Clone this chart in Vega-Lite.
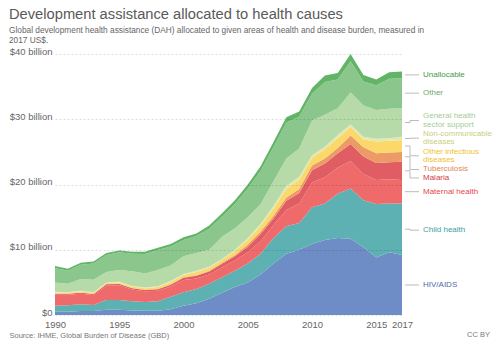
{
"$schema":"https://vega.github.io/schema/vega-lite/v6.json",
"autosize":{"type":"none"},
"width":347,"height":261,
"padding":{"left":55,"top":54,"right":98,"bottom":38},
"config":{"font":"Liberation Sans","view":{"stroke":null}},
"title":{"text":"Development assistance allocated to health causes","subtitle":["Global development health assistance (DAH) allocated to given areas of health and disease burden, measured in","2017 US$."],"anchor":"start","frame":"bounds","fontSize":14.7,"fontWeight":"normal","color":"#5a5a5a","subtitleFontSize":8.3,"subtitleColor":"#666","subtitlePadding":4,"subtitleLineHeight":10,"offset":2},
"datasets":{
"dah":[
{"year":1990,"cause":"HIV/AIDS","value":0.5},{"year":1990,"cause":"Child health","value":0.9},{"year":1990,"cause":"Maternal health","value":1.7},{"year":1990,"cause":"Malaria","value":0.15},{"year":1990,"cause":"Tuberculosis","value":0.05},{"year":1990,"cause":"Other infectious diseases","value":0.15},{"year":1990,"cause":"Non-communicable diseases","value":0.1},{"year":1990,"cause":"General health sector support","value":1.45},{"year":1990,"cause":"Other","value":2.2},{"year":1990,"cause":"Unallocable","value":0.3},
{"year":1991,"cause":"HIV/AIDS","value":0.5},{"year":1991,"cause":"Child health","value":1.0},{"year":1991,"cause":"Maternal health","value":1.6},{"year":1991,"cause":"Malaria","value":0.15},{"year":1991,"cause":"Tuberculosis","value":0.05},{"year":1991,"cause":"Other infectious diseases","value":0.1},{"year":1991,"cause":"Non-communicable diseases","value":0.1},{"year":1991,"cause":"General health sector support","value":1.3},{"year":1991,"cause":"Other","value":2.0},{"year":1991,"cause":"Unallocable","value":0.3},
{"year":1992,"cause":"HIV/AIDS","value":0.6},{"year":1992,"cause":"Child health","value":1.05},{"year":1992,"cause":"Maternal health","value":1.6},{"year":1992,"cause":"Malaria","value":0.15},{"year":1992,"cause":"Tuberculosis","value":0.05},{"year":1992,"cause":"Other infectious diseases","value":0.15},{"year":1992,"cause":"Non-communicable diseases","value":0.1},{"year":1992,"cause":"General health sector support","value":1.8},{"year":1992,"cause":"Other","value":2.2},{"year":1992,"cause":"Unallocable","value":0.3},
{"year":1993,"cause":"HIV/AIDS","value":0.6},{"year":1993,"cause":"Child health","value":0.95},{"year":1993,"cause":"Maternal health","value":1.5},{"year":1993,"cause":"Malaria","value":0.15},{"year":1993,"cause":"Tuberculosis","value":0.05},{"year":1993,"cause":"Other infectious diseases","value":0.15},{"year":1993,"cause":"Non-communicable diseases","value":0.1},{"year":1993,"cause":"General health sector support","value":1.9},{"year":1993,"cause":"Other","value":2.5},{"year":1993,"cause":"Unallocable","value":0.3},
{"year":1994,"cause":"HIV/AIDS","value":0.8},{"year":1994,"cause":"Child health","value":1.5},{"year":1994,"cause":"Maternal health","value":2.2},{"year":1994,"cause":"Malaria","value":0.2},{"year":1994,"cause":"Tuberculosis","value":0.05},{"year":1994,"cause":"Other infectious diseases","value":0.15},{"year":1994,"cause":"Non-communicable diseases","value":0.1},{"year":1994,"cause":"General health sector support","value":1.6},{"year":1994,"cause":"Other","value":2.6},{"year":1994,"cause":"Unallocable","value":0.3},
{"year":1995,"cause":"HIV/AIDS","value":0.8},{"year":1995,"cause":"Child health","value":1.5},{"year":1995,"cause":"Maternal health","value":2.25},{"year":1995,"cause":"Malaria","value":0.2},{"year":1995,"cause":"Tuberculosis","value":0.05},{"year":1995,"cause":"Other infectious diseases","value":0.2},{"year":1995,"cause":"Non-communicable diseases","value":0.1},{"year":1995,"cause":"General health sector support","value":1.8},{"year":1995,"cause":"Other","value":2.7},{"year":1995,"cause":"Unallocable","value":0.3},
{"year":1996,"cause":"HIV/AIDS","value":0.7},{"year":1996,"cause":"Child health","value":1.4},{"year":1996,"cause":"Maternal health","value":1.8},{"year":1996,"cause":"Malaria","value":0.2},{"year":1996,"cause":"Tuberculosis","value":0.05},{"year":1996,"cause":"Other infectious diseases","value":0.2},{"year":1996,"cause":"Non-communicable diseases","value":0.1},{"year":1996,"cause":"General health sector support","value":2.25},{"year":1996,"cause":"Other","value":2.7},{"year":1996,"cause":"Unallocable","value":0.3},
{"year":1997,"cause":"HIV/AIDS","value":0.65},{"year":1997,"cause":"Child health","value":1.35},{"year":1997,"cause":"Maternal health","value":1.65},{"year":1997,"cause":"Malaria","value":0.2},{"year":1997,"cause":"Tuberculosis","value":0.05},{"year":1997,"cause":"Other infectious diseases","value":0.2},{"year":1997,"cause":"Non-communicable diseases","value":0.1},{"year":1997,"cause":"General health sector support","value":2.15},{"year":1997,"cause":"Other","value":3.0},{"year":1997,"cause":"Unallocable","value":0.35},
{"year":1998,"cause":"HIV/AIDS","value":0.65},{"year":1998,"cause":"Child health","value":1.45},{"year":1998,"cause":"Maternal health","value":1.6},{"year":1998,"cause":"Malaria","value":0.25},{"year":1998,"cause":"Tuberculosis","value":0.05},{"year":1998,"cause":"Other infectious diseases","value":0.3},{"year":1998,"cause":"Non-communicable diseases","value":0.1},{"year":1998,"cause":"General health sector support","value":2.5},{"year":1998,"cause":"Other","value":3.05},{"year":1998,"cause":"Unallocable","value":0.35},
{"year":1999,"cause":"HIV/AIDS","value":0.9},{"year":1999,"cause":"Child health","value":1.9},{"year":1999,"cause":"Maternal health","value":1.55},{"year":1999,"cause":"Malaria","value":0.3},{"year":1999,"cause":"Tuberculosis","value":0.05},{"year":1999,"cause":"Other infectious diseases","value":0.35},{"year":1999,"cause":"Non-communicable diseases","value":0.15},{"year":1999,"cause":"General health sector support","value":2.4},{"year":1999,"cause":"Other","value":2.9},{"year":1999,"cause":"Unallocable","value":0.4},
{"year":2000,"cause":"HIV/AIDS","value":1.4},{"year":2000,"cause":"Child health","value":2.1},{"year":2000,"cause":"Maternal health","value":1.85},{"year":2000,"cause":"Malaria","value":0.35},{"year":2000,"cause":"Tuberculosis","value":0.1},{"year":2000,"cause":"Other infectious diseases","value":0.35},{"year":2000,"cause":"Non-communicable diseases","value":0.15},{"year":2000,"cause":"General health sector support","value":2.7},{"year":2000,"cause":"Other","value":2.5},{"year":2000,"cause":"Unallocable","value":0.4},
{"year":2001,"cause":"HIV/AIDS","value":1.8},{"year":2001,"cause":"Child health","value":2.2},{"year":2001,"cause":"Maternal health","value":1.6},{"year":2001,"cause":"Malaria","value":0.4},{"year":2001,"cause":"Tuberculosis","value":0.1},{"year":2001,"cause":"Other infectious diseases","value":0.5},{"year":2001,"cause":"Non-communicable diseases","value":0.2},{"year":2001,"cause":"General health sector support","value":2.7},{"year":2001,"cause":"Other","value":2.6},{"year":2001,"cause":"Unallocable","value":0.4},
{"year":2002,"cause":"HIV/AIDS","value":2.5},{"year":2002,"cause":"Child health","value":2.3},{"year":2002,"cause":"Maternal health","value":1.4},{"year":2002,"cause":"Malaria","value":0.45},{"year":2002,"cause":"Tuberculosis","value":0.15},{"year":2002,"cause":"Other infectious diseases","value":0.45},{"year":2002,"cause":"Non-communicable diseases","value":0.15},{"year":2002,"cause":"General health sector support","value":2.6},{"year":2002,"cause":"Other","value":3.2},{"year":2002,"cause":"Unallocable","value":0.5},
{"year":2003,"cause":"HIV/AIDS","value":3.4},{"year":2003,"cause":"Child health","value":2.4},{"year":2003,"cause":"Maternal health","value":1.5},{"year":2003,"cause":"Malaria","value":0.55},{"year":2003,"cause":"Tuberculosis","value":0.15},{"year":2003,"cause":"Other infectious diseases","value":0.45},{"year":2003,"cause":"Non-communicable diseases","value":0.15},{"year":2003,"cause":"General health sector support","value":3.4},{"year":2003,"cause":"Other","value":3.1},{"year":2003,"cause":"Unallocable","value":0.5},
{"year":2004,"cause":"HIV/AIDS","value":4.3},{"year":2004,"cause":"Child health","value":2.5},{"year":2004,"cause":"Maternal health","value":1.55},{"year":2004,"cause":"Malaria","value":0.65},{"year":2004,"cause":"Tuberculosis","value":0.2},{"year":2004,"cause":"Other infectious diseases","value":0.6},{"year":2004,"cause":"Non-communicable diseases","value":0.2},{"year":2004,"cause":"General health sector support","value":3.3},{"year":2004,"cause":"Other","value":3.7},{"year":2004,"cause":"Unallocable","value":0.6},
{"year":2005,"cause":"HIV/AIDS","value":5.0},{"year":2005,"cause":"Child health","value":2.9},{"year":2005,"cause":"Maternal health","value":1.7},{"year":2005,"cause":"Malaria","value":0.85},{"year":2005,"cause":"Tuberculosis","value":0.35},{"year":2005,"cause":"Other infectious diseases","value":0.7},{"year":2005,"cause":"Non-communicable diseases","value":0.3},{"year":2005,"cause":"General health sector support","value":3.2},{"year":2005,"cause":"Other","value":4.4},{"year":2005,"cause":"Unallocable","value":0.6},
{"year":2006,"cause":"HIV/AIDS","value":6.2},{"year":2006,"cause":"Child health","value":3.2},{"year":2006,"cause":"Maternal health","value":1.9},{"year":2006,"cause":"Malaria","value":1.1},{"year":2006,"cause":"Tuberculosis","value":0.4},{"year":2006,"cause":"Other infectious diseases","value":0.85},{"year":2006,"cause":"Non-communicable diseases","value":0.35},{"year":2006,"cause":"General health sector support","value":3.0},{"year":2006,"cause":"Other","value":5.1},{"year":2006,"cause":"Unallocable","value":0.7},
{"year":2007,"cause":"HIV/AIDS","value":7.9},{"year":2007,"cause":"Child health","value":3.9},{"year":2007,"cause":"Maternal health","value":2.0},{"year":2007,"cause":"Malaria","value":1.0},{"year":2007,"cause":"Tuberculosis","value":0.4},{"year":2007,"cause":"Other infectious diseases","value":1.1},{"year":2007,"cause":"Non-communicable diseases","value":0.4},{"year":2007,"cause":"General health sector support","value":3.8},{"year":2007,"cause":"Other","value":5.2},{"year":2007,"cause":"Unallocable","value":0.8},
{"year":2008,"cause":"HIV/AIDS","value":9.4},{"year":2008,"cause":"Child health","value":4.2},{"year":2008,"cause":"Maternal health","value":2.5},{"year":2008,"cause":"Malaria","value":1.4},{"year":2008,"cause":"Tuberculosis","value":0.5},{"year":2008,"cause":"Other infectious diseases","value":1.3},{"year":2008,"cause":"Non-communicable diseases","value":0.5},{"year":2008,"cause":"General health sector support","value":4.2},{"year":2008,"cause":"Other","value":5.5},{"year":2008,"cause":"Unallocable","value":0.8},
{"year":2009,"cause":"HIV/AIDS","value":10.0},{"year":2009,"cause":"Child health","value":4.1},{"year":2009,"cause":"Maternal health","value":3.0},{"year":2009,"cause":"Malaria","value":1.6},{"year":2009,"cause":"Tuberculosis","value":0.6},{"year":2009,"cause":"Other infectious diseases","value":1.4},{"year":2009,"cause":"Non-communicable diseases","value":0.5},{"year":2009,"cause":"General health sector support","value":4.3},{"year":2009,"cause":"Other","value":4.9},{"year":2009,"cause":"Unallocable","value":0.8},
{"year":2010,"cause":"HIV/AIDS","value":10.9},{"year":2010,"cause":"Child health","value":5.6},{"year":2010,"cause":"Maternal health","value":3.8},{"year":2010,"cause":"Malaria","value":1.9},{"year":2010,"cause":"Tuberculosis","value":0.7},{"year":2010,"cause":"Other infectious diseases","value":1.2},{"year":2010,"cause":"Non-communicable diseases","value":0.4},{"year":2010,"cause":"General health sector support","value":5.3},{"year":2010,"cause":"Other","value":4.1},{"year":2010,"cause":"Unallocable","value":0.9},
{"year":2011,"cause":"HIV/AIDS","value":11.5},{"year":2011,"cause":"Child health","value":5.6},{"year":2011,"cause":"Maternal health","value":4.0},{"year":2011,"cause":"Malaria","value":2.1},{"year":2011,"cause":"Tuberculosis","value":0.8},{"year":2011,"cause":"Other infectious diseases","value":1.4},{"year":2011,"cause":"Non-communicable diseases","value":0.4},{"year":2011,"cause":"General health sector support","value":4.9},{"year":2011,"cause":"Other","value":5.0},{"year":2011,"cause":"Unallocable","value":1.0},
{"year":2012,"cause":"HIV/AIDS","value":11.8},{"year":2012,"cause":"Child health","value":6.8},{"year":2012,"cause":"Maternal health","value":4.0},{"year":2012,"cause":"Malaria","value":2.2},{"year":2012,"cause":"Tuberculosis","value":0.8},{"year":2012,"cause":"Other infectious diseases","value":1.5},{"year":2012,"cause":"Non-communicable diseases","value":0.5},{"year":2012,"cause":"General health sector support","value":4.1},{"year":2012,"cause":"Other","value":4.4},{"year":2012,"cause":"Unallocable","value":1.0},
{"year":2013,"cause":"HIV/AIDS","value":11.7},{"year":2013,"cause":"Child health","value":7.7},{"year":2013,"cause":"Maternal health","value":4.2},{"year":2013,"cause":"Malaria","value":2.6},{"year":2013,"cause":"Tuberculosis","value":1.3},{"year":2013,"cause":"Other infectious diseases","value":1.3},{"year":2013,"cause":"Non-communicable diseases","value":0.4},{"year":2013,"cause":"General health sector support","value":4.9},{"year":2013,"cause":"Other","value":4.8},{"year":2013,"cause":"Unallocable","value":1.1},
{"year":2014,"cause":"HIV/AIDS","value":10.4},{"year":2014,"cause":"Child health","value":7.2},{"year":2014,"cause":"Maternal health","value":4.0},{"year":2014,"cause":"Malaria","value":2.7},{"year":2014,"cause":"Tuberculosis","value":1.4},{"year":2014,"cause":"Other infectious diseases","value":1.2},{"year":2014,"cause":"Non-communicable diseases","value":0.4},{"year":2014,"cause":"General health sector support","value":4.8},{"year":2014,"cause":"Other","value":3.7},{"year":2014,"cause":"Unallocable","value":1.0},
{"year":2015,"cause":"HIV/AIDS","value":8.8},{"year":2015,"cause":"Child health","value":8.2},{"year":2015,"cause":"Maternal health","value":3.7},{"year":2015,"cause":"Malaria","value":2.6},{"year":2015,"cause":"Tuberculosis","value":1.5},{"year":2015,"cause":"Other infectious diseases","value":1.8},{"year":2015,"cause":"Non-communicable diseases","value":0.4},{"year":2015,"cause":"General health sector support","value":4.4},{"year":2015,"cause":"Other","value":3.8},{"year":2015,"cause":"Unallocable","value":0.9},
{"year":2016,"cause":"HIV/AIDS","value":9.6},{"year":2016,"cause":"Child health","value":7.5},{"year":2016,"cause":"Maternal health","value":3.7},{"year":2016,"cause":"Malaria","value":2.6},{"year":2016,"cause":"Tuberculosis","value":1.5},{"year":2016,"cause":"Other infectious diseases","value":1.8},{"year":2016,"cause":"Non-communicable diseases","value":0.4},{"year":2016,"cause":"General health sector support","value":4.5},{"year":2016,"cause":"Other","value":4.6},{"year":2016,"cause":"Unallocable","value":1.0},
{"year":2017,"cause":"HIV/AIDS","value":9.2},{"year":2017,"cause":"Child health","value":7.9},{"year":2017,"cause":"Maternal health","value":3.6},{"year":2017,"cause":"Malaria","value":2.8},{"year":2017,"cause":"Tuberculosis","value":1.5},{"year":2017,"cause":"Other infectious diseases","value":1.8},{"year":2017,"cause":"Non-communicable diseases","value":0.5},{"year":2017,"cause":"General health sector support","value":4.4},{"year":2017,"cause":"Other","value":4.6},{"year":2017,"cause":"Unallocable","value":1.0}
],
"labels":[
{"cause":"Unallocable","label":"Unallocable","lines":1,"at":36.8},
{"cause":"Other","label":"Other","lines":1,"at":34.0},
{"cause":"General health sector support","label":"General health\nsector support","lines":2,"at":29.8},
{"cause":"Non-communicable diseases","label":"Non-communicable\ndiseases","lines":2,"at":27.1},
{"cause":"Other infectious diseases","label":"Other infectious\ndiseases","lines":2,"at":24.4},
{"cause":"Tuberculosis","label":"Tuberculosis","lines":1,"at":22.3},
{"cause":"Malaria","label":"Malaria","lines":1,"at":21.0},
{"cause":"Maternal health","label":"Maternal health","lines":1,"at":18.9},
{"cause":"Child health","label":"Child health","lines":1,"at":13.0},
{"cause":"HIV/AIDS","label":"HIV/AIDS","lines":1,"at":4.6}
]
},
"resolve":{"scale":{"color":"independent"}},
"layer":[
{
"data":{"name":"dah"},
"transform":[{"calculate":"indexof(['HIV/AIDS','Child health','Maternal health','Malaria','Tuberculosis','Other infectious diseases','Non-communicable diseases','General health sector support','Other','Unallocable'], datum.cause)","as":"rank"}],
"mark":{"type":"area","interpolate":"linear"},
"encoding":{
"x":{"field":"year","type":"quantitative","scale":{"domain":[1990,2017],"nice":false,"zero":false},
"axis":{"values":[1990,1995,2000,2005,2010,2015,2017],"format":"d","labelFlush":false,"labelFontSize":9.5,"labelColor":"#666","ticks":false,"domain":false,"grid":false,"labelPadding":4,
"title":"Source: IHME, Global Burden of Disease (GBD)","titleAnchor":"start","titleAlign":"left","titleX":-46,"titleY":20,"titleBaseline":"middle","titleFontSize":7.5,"titleFontWeight":"normal","titleColor":"#777"}},
"y":{"field":"value","type":"quantitative","stack":"zero","scale":{"domain":[0,40],"nice":false},
"axis":{"values":[0,5,10,15,20,25,30,35,40],"labelExpr":"datum.value == 0 ? '$0' : '$' + datum.value + ' billion'","title":null,"domain":false,"ticks":false,"labelPadding":3,"labelFontSize":9.5,"labelColor":"#666","labelOffset":-3,"gridDash":[2,2],"gridColor":"#000","gridOpacity":0.13,"zindex":1}},
"order":{"field":"rank","type":"quantitative","sort":"ascending"},
"color":{"field":"cause","type":"nominal",
"scale":{"domain":["HIV/AIDS","Child health","Maternal health","Malaria","Tuberculosis","Other infectious diseases","Non-communicable diseases","General health sector support","Other","Unallocable"],
"range":["#6e8dc6","#5db1b2","#ef6b6b","#df5d63","#ec9a66","#fcd86b","#e2e8ae","#b6dba9","#8bc78c","#62b566"]},"legend":null}
}
},
{
"data":{"name":"dah"},
"transform":[
{"filter":"datum.year == 2017"},
{"window":[{"op":"sum","field":"value","as":"top"}],"frame":[null,0],"ignorePeers":true},
{"calculate":"datum.top - datum.value / 2","as":"mid"},
{"lookup":"cause","from":{"data":{"name":"labels"},"key":"cause","fields":["label","lines","at"]}}
],
"layer":[
{"mark":{"type":"rule","xOffset":3,"x2Offset":8,"color":"#aaa","strokeWidth":0.8},
"encoding":{"x":{"datum":2017,"type":"quantitative"},"x2":{"datum":2017},"y":{"field":"mid","type":"quantitative"}}},
{"mark":{"type":"rule","xOffset":8,"color":"#aaa","strokeWidth":0.8},
"encoding":{"x":{"datum":2017,"type":"quantitative"},"y":{"field":"mid","type":"quantitative"},"y2":{"field":"at"}}},
{"mark":{"type":"rule","xOffset":8,"x2Offset":17,"color":"#aaa","strokeWidth":0.8},
"encoding":{"x":{"datum":2017,"type":"quantitative"},"x2":{"datum":2017},"y":{"field":"at","type":"quantitative"}}},
{"transform":[{"filter":"datum.lines == 1"}],
"mark":{"type":"text","align":"left","baseline":"middle","dx":21,"fontSize":8},
"encoding":{"x":{"datum":2017,"type":"quantitative"},"y":{"field":"at","type":"quantitative"},"text":{"field":"label"},
"color":{"field":"cause","type":"nominal","scale":{"domain":["HIV/AIDS","Child health","Maternal health","Malaria","Tuberculosis","Other infectious diseases","Non-communicable diseases","General health sector support","Other","Unallocable"],
"range":["#4f68aa","#3d9e9e","#e5484b","#d3404a","#df8550","#f0c12f","#c7cf7e","#a3cd95","#6aab6c","#3f9a46"]},"legend":null}}},
{"transform":[{"filter":"datum.lines == 2"}],
"mark":{"type":"text","align":"left","baseline":"middle","dx":21,"dy":-4.2,"fontSize":8,"lineBreak":"\n","lineHeight":8.4},
"encoding":{"x":{"datum":2017,"type":"quantitative"},"y":{"field":"at","type":"quantitative"},"text":{"field":"label"},
"color":{"field":"cause","type":"nominal","scale":{"domain":["HIV/AIDS","Child health","Maternal health","Malaria","Tuberculosis","Other infectious diseases","Non-communicable diseases","General health sector support","Other","Unallocable"],
"range":["#4f68aa","#3d9e9e","#e5484b","#d3404a","#df8550","#f0c12f","#c7cf7e","#a3cd95","#6aab6c","#3f9a46"]},"legend":null}}}
]
},
{
"data":{"values":[{"note":"CC BY"}]},
"mark":{"type":"text","align":"right","baseline":"middle","dx":88,"dy":20,"fontSize":7.5,"color":"#777"},
"encoding":{"x":{"datum":2017,"type":"quantitative"},"y":{"datum":0,"type":"quantitative"},"text":{"field":"note"}}
}
]
}
